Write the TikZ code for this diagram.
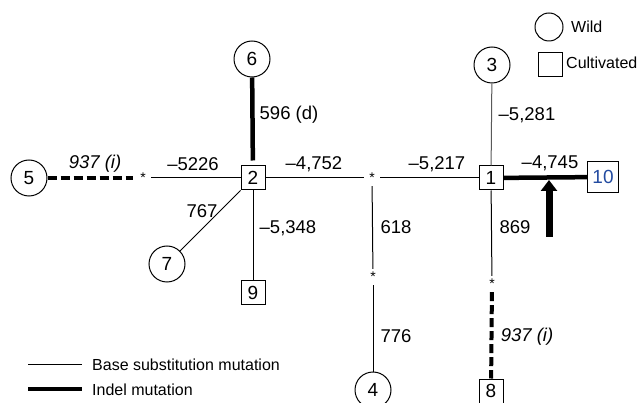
\documentclass[tikz,border=0pt]{standalone}
\usepackage{fontspec}
\setmainfont{Liberation Sans}
\usetikzlibrary{arrows.meta}
\definecolor{numblue}{RGB}{35,75,160}
\begin{document}
\begin{tikzpicture}[x=1pt,y=-1pt,
  wild/.style={draw,circle,line width=1pt,minimum size=36pt,inner sep=0pt,font=\fontsize{19}{20}\selectfont},
  cult/.style={draw,rectangle,line width=1pt,minimum size=24pt,inner sep=0pt,font=\fontsize{19}{20}\selectfont},
  star/.style={circle,minimum size=16pt,inner sep=0pt,font=\fontsize{14}{14}\selectfont},
  lab/.style={font=\fontsize{18.5}{20}\selectfont,inner sep=0pt},
  ilab/.style={font=\fontsize{18.5}{20}\selectfont\itshape,inner sep=0pt},
  leg/.style={font=\fontsize{16}{18}\selectfont,inner sep=0pt,anchor=west},
  base/.style={line width=1pt},
  indel/.style={line width=4.5pt},
  indeldash/.style={line width=4pt,dash pattern=on 9pt off 4pt}]
\useasboundingbox (0,0) rectangle (640,403);
% nodes
\node[wild] (n6) at (252,59) {6};
\node[cult] (n2) at (253,178) {2};
\node[wild] (n5) at (29,178) {5};
\node[star] (s1) at (143,178) {\raisebox{-3pt}{*}};
\node[star] (s2) at (372,178) {\raisebox{-3pt}{*}};
\node[star] (s3) at (373,277) {*};
\node[star] (s4) at (492,284) {*};
\node[cult] (n1) at (491,178) {1};
\node[cult,minimum size=31pt,text=numblue] (n10) at (603,177) {10};
\node[wild] (n3) at (492,65) {3};
\node[wild] (n7) at (167,264) {7};
\node[cult] (n9) at (253,293) {9};
\node[wild] (n4) at (373,390) {4};
\node[cult] (n8) at (491,391) {8};
% edges
\draw[indel,shorten >=5pt] (n6) -- (n2);
\draw[indeldash,shorten >=2pt] (n5) -- (s1);
\draw[base] (s1) -- (n2);
\draw[base] (n2) -- (s2);
\draw[base] (s2) -- (n1);
\draw[indel] (n1) -- (n10);
\draw[base,gray!70!black] (n3) -- (n1);
\draw[base] (n2.south west) -- (n7);
\draw[base] (n2) -- (n9);
\draw[base] (s2) -- (s3);
\draw[base] (s3) -- (n4);
\draw[base] (n1) -- (s4);
\draw[indeldash] (s4) -- (n8);
% arrow
\coordinate (a0) at (549,237);
\coordinate (a1) at (549,180);
\draw[line width=7pt,-{Triangle[width=16pt,length=11pt]}] (a0) -- (a1);
% labels
\node[lab] (l596) at (289,115) {596 (d)};
\node[ilab] (l937a) at (95,164) {937 (i)};
\node[lab] (l5226) at (193,164) {\textendash 5226};
\node[lab] (l4752) at (314,164) {\textendash 4,752};
\node[lab] (l5217) at (437,164) {\textendash 5,217};
\node[lab] (l4745) at (550,163) {\textendash 4,745};
\node[lab] (l5281) at (527,115) {\textendash 5,281};
\node[lab] (l767) at (202,211) {767};
\node[lab] (l5348) at (288,228) {\textendash 5,348};
\node[lab] (l618) at (396,227) {618};
\node[lab] (l776) at (396,336) {776};
\node[lab] (l869) at (515,227) {869};
\node[ilab] (l937b) at (527,337) {937 (i)};
% legend
\node[draw,circle,line width=1pt,minimum size=28pt,inner sep=0pt] (lw) at (549,27) {};
\node[leg] (lwt) at (571,27) {Wild};
\node[draw,rectangle,line width=1pt,minimum size=24pt,inner sep=0pt] (lc) at (550,65) {};
\node[leg] (lct) at (566,63) {Cultivated};
\coordinate (b0) at (28,364);
\coordinate (b1) at (82,364);
\draw[base] (b0) -- (b1);
\node[leg] (lbt) at (92,365) {Base substitution mutation};
\coordinate (i0) at (28,389);
\coordinate (i1) at (82,389);
\draw[indel] (i0) -- (i1);
\node[leg] (lit) at (92,390) {Indel mutation};
\end{tikzpicture}
\end{document}
